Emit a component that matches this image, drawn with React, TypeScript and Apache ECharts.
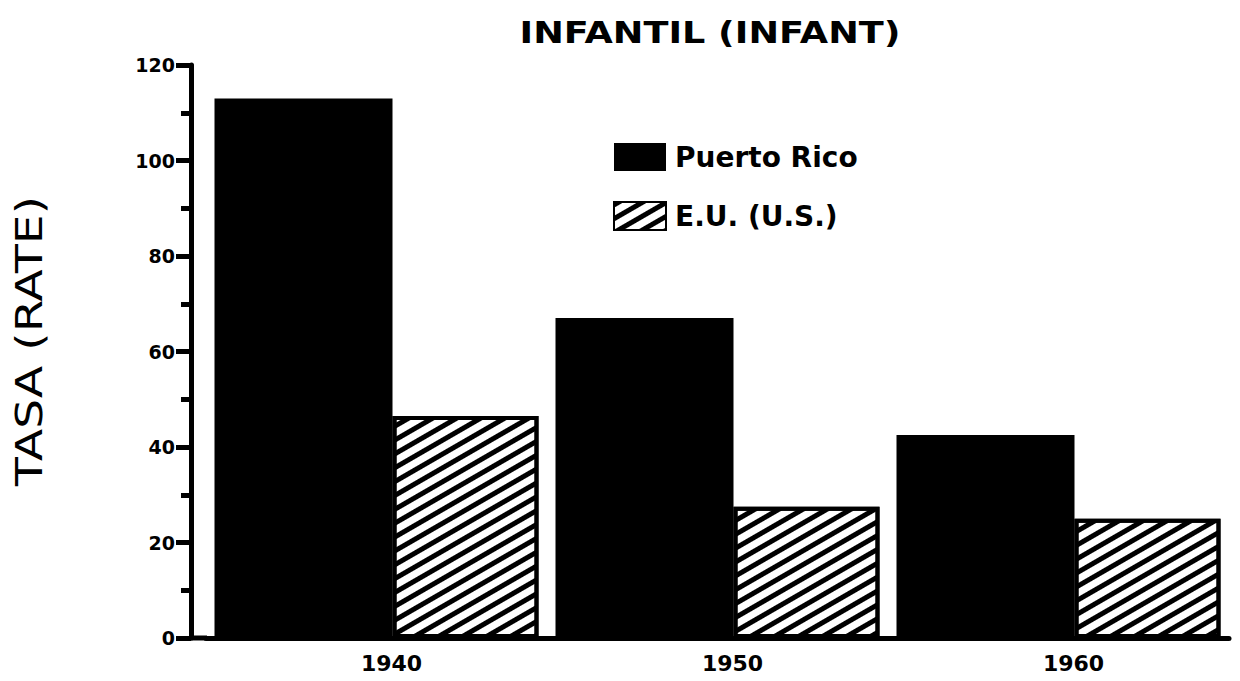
import React, { useEffect, useRef } from "react";
import * as echarts from "echarts";

const years = ["1940", "1950", "1960"];
const puertoRico = [113, 67, 42.5];
const estadosUnidos = [46.5, 27.5, 25];
const yTicks = { min: 0, max: 120, interval: 20 };
const titleText = "INFANTIL (INFANT)";
const yName = "TASA (RATE)";
const seriesNames = ["Puerto Rico", "E.U. (U.S.)"];

const FONT = "'DejaVu Sans', sans-serif";

export default function App() {
  const ref = useRef<HTMLDivElement>(null);
  useEffect(() => {
    if (!ref.current) return;
    const chart = echarts.init(ref.current, null, { renderer: "svg" });
    chart.setOption({
      animation: false,
      backgroundColor: "#ffffff",
      grid: { left: 206, right: 11, top: 65, bottom: 43, containLabel: false },
      legend: {
        orient: "vertical",
        left: 608,
        top: 138,
        itemWidth: 52,
        itemHeight: 28,
        itemGap: 30,
        icon: "rect",
        selectedMode: false,
        textStyle: {
          fontFamily: FONT,
          fontWeight: "bold",
          fontSize: 28,
          color: "#000",
          lineHeight: 28,
          padding: [0, 0, 0, 4],
        },
        data: seriesNames,
      },
      xAxis: {
        type: "category",
        data: years,
        axisLine: { show: true, lineStyle: { color: "#000", width: 5 } },
        axisTick: { show: false },
        axisLabel: {
          color: "#000",
          fontFamily: FONT,
          fontWeight: "bold",
          fontSize: 22,
          margin: 14,
          padding: [0, 0, 0, 30],
        },
      },
      yAxis: {
        type: "value",
        min: yTicks.min,
        max: yTicks.max,
        interval: yTicks.interval,
        offset: 15,
        axisLine: { show: true, lineStyle: { color: "#000", width: 5 } },
        axisTick: { show: true, length: 15, lineStyle: { color: "#000", width: 5 } },
        minorTick: { show: true, splitNumber: 2, length: 10, lineStyle: { color: "#000", width: 5 } },
        splitLine: { show: false },
        axisLabel: {
          color: "#000",
          fontFamily: FONT,
          fontWeight: "bold",
          fontSize: 19,
          margin: 16,
        },
      },
      graphic: [
        {
          type: "text",
          x: 710,
          y: 33,
          scaleX: 1.22,
          style: {
            text: titleText,
            font: `bold 30px ${FONT}`,
            fill: "#000",
            align: "center",
            verticalAlign: "middle",
          },
        },
        {
          type: "text",
          x: 29,
          y: 341,
          rotation: Math.PI / 2,
          scaleX: 1.24,
          style: {
            text: yName,
            font: `38px ${FONT}`,
            fill: "#000",
            align: "center",
            verticalAlign: "middle",
          },
        },
        {
          type: "line",
          shape: { x1: 191, y1: 638, x2: 207, y2: 638 },
          style: { stroke: "#000", lineWidth: 5 },
        },
      ],
      series: [
        {
          name: seriesNames[0],
          type: "bar",
          data: puertoRico,
          barWidth: 178,
          barGap: "0%",
          itemStyle: { color: "#000" },
        },
        {
          name: seriesNames[1],
          type: "bar",
          data: estadosUnidos,
          barWidth: 146,
          barGap: "0%",
          itemStyle: {
            color: "#fff",
            borderColor: "#000",
            borderWidth: 4,
            decal: {
              symbol: "rect",
              symbolSize: 1,
              color: "#000",
              backgroundColor: "#fff",
              dashArrayX: [1, 0],
              dashArrayY: [5, 7],
              rotation: -Math.PI / 6,
            },
          },
        },
      ],
    });
    return () => chart.dispose();
  }, []);
  return <div ref={ref} style={{ width: 1240, height: 681, margin: -8 }} />;
}
